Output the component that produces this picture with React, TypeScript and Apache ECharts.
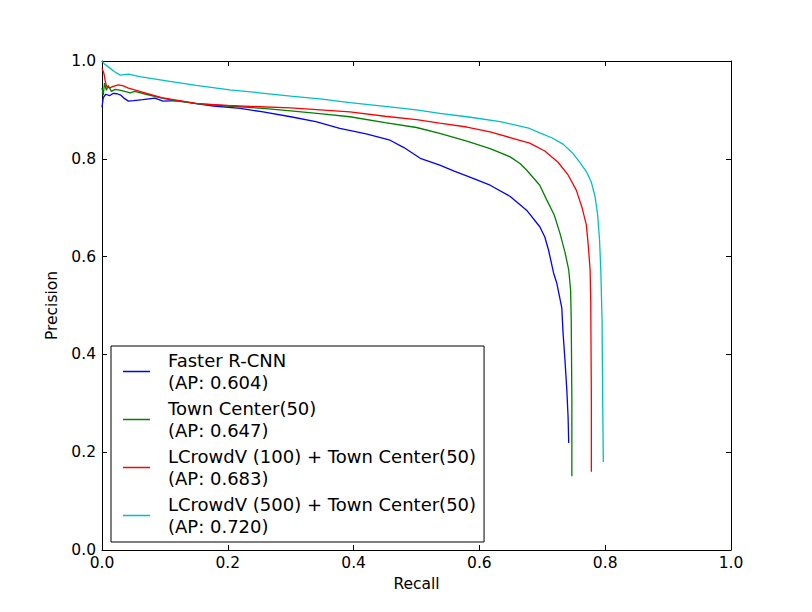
import React, { useEffect, useRef } from "react";
import * as echarts from "echarts";

const seriesNames = [
  "Faster R-CNN\n(AP: 0.604)",
  "Town Center(50)\n(AP: 0.647)",
  "LCrowdV (100) + Town Center(50)\n(AP: 0.683)",
  "LCrowdV (500) + Town Center(50)\n(AP: 0.720)",
];
const seriesColors = ["#0000ff", "#008000", "#ff0000", "#00bfbf"];

const fasterRcnn: [number, number][] = [
  [0.0, 0.905], [0.002, 0.925], [0.006, 0.932], [0.012, 0.929], [0.018, 0.934],
  [0.024, 0.933], [0.03, 0.93], [0.036, 0.923], [0.042, 0.918], [0.05, 0.919],
  [0.065, 0.921], [0.084, 0.924], [0.097, 0.918], [0.12, 0.919], [0.15, 0.913],
  [0.177, 0.908], [0.22, 0.903], [0.256, 0.896], [0.3, 0.886], [0.34, 0.876],
  [0.378, 0.862], [0.42, 0.851], [0.458, 0.838], [0.48, 0.823], [0.506, 0.801],
  [0.537, 0.787], [0.56, 0.775], [0.59, 0.76], [0.617, 0.746], [0.649, 0.723],
  [0.675, 0.695], [0.696, 0.661], [0.704, 0.64], [0.71, 0.613], [0.718, 0.566],
  [0.723, 0.546], [0.731, 0.495], [0.733, 0.444], [0.736, 0.389], [0.739, 0.327],
  [0.741, 0.272], [0.742, 0.219],
];

const townCenter: [number, number][] = [
  [0.0, 0.945], [0.002, 0.93], [0.004, 0.955], [0.007, 0.94], [0.01, 0.95],
  [0.015, 0.938], [0.021, 0.942], [0.03, 0.94], [0.045, 0.935], [0.052, 0.938],
  [0.07, 0.932], [0.095, 0.924], [0.12, 0.918], [0.151, 0.913], [0.2, 0.908],
  [0.256, 0.903], [0.3, 0.898], [0.35, 0.892], [0.394, 0.886], [0.45, 0.874],
  [0.5, 0.864], [0.537, 0.852], [0.58, 0.836], [0.617, 0.821], [0.649, 0.804],
  [0.665, 0.79], [0.675, 0.777], [0.696, 0.746], [0.707, 0.716], [0.719, 0.685],
  [0.728, 0.648], [0.736, 0.609], [0.742, 0.573], [0.745, 0.532], [0.746, 0.47],
  [0.747, 0.307], [0.747, 0.151],
];

const lcrowd100: [number, number][] = [
  [0.0, 0.985], [0.003, 0.975], [0.005, 0.96], [0.0075, 0.947], [0.012, 0.945],
  [0.018, 0.948], [0.026, 0.951], [0.034, 0.949], [0.041, 0.945], [0.06, 0.938],
  [0.095, 0.925], [0.151, 0.913], [0.2, 0.909], [0.3, 0.904], [0.394, 0.896],
  [0.45, 0.887], [0.5, 0.88], [0.537, 0.873], [0.58, 0.865], [0.617, 0.855],
  [0.65, 0.843], [0.68, 0.832], [0.704, 0.816], [0.725, 0.793], [0.741, 0.767],
  [0.754, 0.736], [0.763, 0.701], [0.77, 0.665], [0.773, 0.624], [0.776, 0.573],
  [0.777, 0.511], [0.778, 0.307], [0.778, 0.16],
];

const lcrowd500: [number, number][] = [
  [0.0, 1.0], [0.003, 0.995], [0.01, 0.988], [0.02, 0.978], [0.029, 0.971],
  [0.042, 0.973], [0.06, 0.968], [0.1, 0.96], [0.15, 0.95], [0.203, 0.941],
  [0.25, 0.935], [0.3, 0.928], [0.35, 0.922], [0.394, 0.915], [0.45, 0.907],
  [0.5, 0.9], [0.537, 0.893], [0.58, 0.886], [0.633, 0.876], [0.68, 0.862],
  [0.696, 0.853], [0.715, 0.843], [0.733, 0.83], [0.748, 0.812], [0.76, 0.792],
  [0.77, 0.774], [0.778, 0.752], [0.784, 0.722], [0.788, 0.685], [0.791, 0.634],
  [0.793, 0.573], [0.795, 0.47], [0.796, 0.307], [0.797, 0.18],
];

const seriesData = [fasterRcnn, townCenter, lcrowd100, lcrowd500];

const FONT = "DejaVu Sans";

export default function App() {
  const ref = useRef<HTMLDivElement>(null);
  useEffect(() => {
    if (!ref.current) return;
    const chart = echarts.init(ref.current, undefined, { renderer: "svg" });
    const tickCommon = {
      axisLine: { show: true, onZero: false, lineStyle: { color: "#000", width: 1 } },
      axisTick: { show: true, inside: true, length: 5, lineStyle: { color: "#000", width: 1 } },
      splitLine: { show: false },
    };
    chart.setOption({
      animation: false,
      backgroundColor: "#fff",
      grid: { left: 102, top: 61, right: 81, bottom: 62, containLabel: false },
      xAxis: [
        {
          type: "value", min: 0, max: 1, interval: 0.2, position: "bottom",
          name: "Recall", nameLocation: "middle", nameGap: 25,
          nameTextStyle: { fontFamily: FONT, fontSize: 15.5, color: "#000" },
          axisLabel: { margin: 5, fontFamily: FONT, fontSize: 15.5, color: "#000", formatter: (v: number) => v.toFixed(1) },
          ...tickCommon,
        },
        {
          type: "value", min: 0, max: 1, interval: 0.2, position: "top",
          axisLabel: { show: false },
          ...tickCommon,
        },
      ],
      yAxis: [
        {
          type: "value", min: 0, max: 1, interval: 0.2, position: "left",
          name: "Precision", nameLocation: "middle", nameGap: 39, nameRotate: 90,
          nameTextStyle: { fontFamily: FONT, fontSize: 15.5, color: "#000" },
          axisLabel: { margin: 6, fontFamily: FONT, fontSize: 15.5, color: "#000", formatter: (v: number) => v.toFixed(1) },
          ...tickCommon,
        },
        {
          type: "value", min: 0, max: 1, interval: 0.2, position: "right",
          axisLabel: { show: false },
          ...tickCommon,
        },
      ],
      legend: {
        show: true,
        orient: "vertical",
        left: 111,
        top: 346,
        padding: [4, 8, 5, 12],
        itemGap: 5,
        itemWidth: 27,
        itemHeight: 1.5,
        icon: "rect",
        backgroundColor: "#fff",
        borderColor: "#000",
        borderWidth: 1,
        borderRadius: 0,
        data: seriesNames,
        textStyle: {
          fontFamily: FONT,
          fontSize: 18,
          color: "#000",
          lineHeight: 21.5,
          padding: [0, 0, 0, 13],
        },
      },
      series: seriesData.map((d, i) => ({
        type: "line",
        name: seriesNames[i],
        data: d,
        xAxisIndex: 0,
        yAxisIndex: 0,
        showSymbol: false,
        symbol: "none",
        clip: true,
        color: seriesColors[i],
        lineStyle: { color: seriesColors[i], width: 1.3 },
        itemStyle: { color: seriesColors[i] },
        z: 2 + i,
      })),
    });
    return () => chart.dispose();
  }, []);
  return (
    <div
      ref={ref}
      style={{ position: "fixed", left: 0, top: 0, width: 812, height: 612, background: "#fff" }}
    />
  );
}
